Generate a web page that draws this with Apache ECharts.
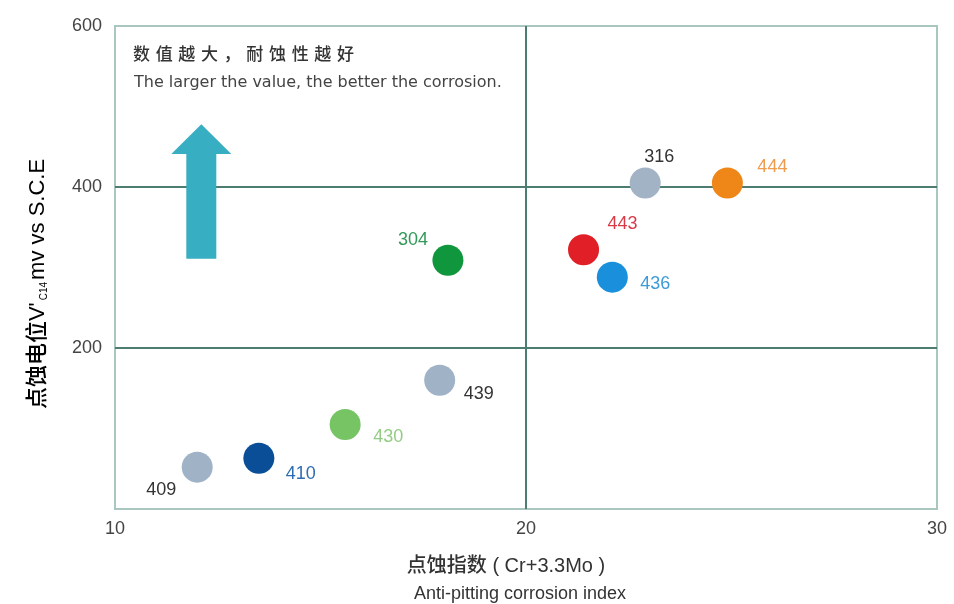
<!DOCTYPE html>
<html>
<head>
<meta charset="utf-8">
<script src="https://cdn.jsdelivr.net/npm/echarts@6/dist/echarts.min.js"></script>
<style>
html,body{margin:0;padding:0;background:#fff;}
#chart{width:954px;height:604px;}
</style>
</head>
<body>
<div id="chart"></div>
<script>
// ---- data ----
const grades = ['409', '410', '430', '439', '304', '443', '436', '316', '444'];
const pren = [12.0, 13.5, 15.6, 17.9, 18.1, 21.4, 22.1, 22.9, 24.9];
const potential = [52, 63, 105, 160, 309, 322, 288, 405, 405];
const xTicks = [10, 20, 30];
const yTicks = [0, 200, 400, 600];
// arrow annotation (x, tail y, neck y, tip y) in data units
const arrowX = 12.1;
const arrowY = [311, 441, 478];

// ---- styles ----
const dotColors = ['#9fb2c6', '#0a4e98', '#76c464', '#9fb2c6', '#10963c', '#e01f26', '#1a8fdb', '#a2b3c5', '#ef8618'];
const labelColors = ['#333333', '#2f6cb2', '#94cc84', '#333333', '#33995a', '#d83a47', '#3d9bd9', '#333333', '#ee9c4e'];
const labelOffsets = [[-36, 23], [42, 16], [43, 13], [39, 14], [-35, -20], [39, -26], [43, 7], [14, -26], [45, -16]];

const chart = echarts.init(document.getElementById('chart'));

const scatterData = grades.map((g, i) => ({
  name: g,
  value: [pren[i], potential[i]],
  itemStyle: { color: dotColors[i], opacity: 1 },
  label: {
    show: true,
    position: 'inside',
    offset: labelOffsets[i],
    formatter: g,
    color: labelColors[i],
    fontSize: 18,
    fontFamily: 'Liberation Sans, Arial, sans-serif'
  }
}));

const sp = '\u2004';
const titleCn = ['数', '值', '越', '大', '，', '耐', '蚀', '性', '越', '好'].join(sp);

const option = {
  backgroundColor: '#ffffff',
  animation: false,
  grid: {
    left: 115, right: 17, top: 26, bottom: 95,
    show: true,
    borderColor: '#a9c6bf',
    borderWidth: 2,
    backgroundColor: 'transparent'
  },
  xAxis: {
    type: 'value',
    min: xTicks[0], max: xTicks[xTicks.length - 1], interval: xTicks[1] - xTicks[0],
    axisLine: { show: false },
    axisTick: { show: false },
    axisLabel: { margin: 11, fontSize: 18, color: '#444', fontFamily: 'Liberation Sans, Arial, sans-serif' },
    splitLine: { show: true, showMinLine: false, showMaxLine: false, lineStyle: { color: '#4d7c70', width: 2 } }
  },
  yAxis: {
    type: 'value',
    min: yTicks[0], max: yTicks[yTicks.length - 1], interval: yTicks[1] - yTicks[0],
    axisLine: { show: false },
    axisTick: { show: false },
    axisLabel: {
      margin: 13, fontSize: 18, color: '#444', fontFamily: 'Liberation Sans, Arial, sans-serif',
      formatter: v => (v === 0 ? '' : String(v))
    },
    splitLine: { show: true, showMinLine: false, showMaxLine: false, lineStyle: { color: '#4d7c70', width: 2 } }
  },
  graphic: [
    {
      type: 'text', left: 133, top: 45, z: 10,
      style: {
        text: titleCn,
        font: '500 17px "Noto Sans CJK SC", sans-serif',
        fill: '#333'
      }
    },
    {
      type: 'text', left: 134, top: 75, z: 10,
      style: {
        text: 'The larger the value, the better the corrosion.',
        font: '16px "DejaVu Sans", sans-serif',
        fill: '#444'
      }
    },
    {
      type: 'text', x: 38, y: 284, rotation: Math.PI / 2, z: 10,
      style: {
        text: "{m|点蚀电位V'}{s|C14}{m|mv vs S.C.E}",
        align: 'center', verticalAlign: 'middle',
        rich: {
          m: { fontSize: 22, fontFamily: '"Liberation Sans", "Noto Sans CJK SC", sans-serif', fontWeight: 500, color: '#333' },
          s: { fontSize: 10, fontFamily: 'Liberation Sans, sans-serif', color: '#666', verticalAlign: 'bottom', padding: [10, 2, 0, 2] }
        }
      }
    },
    {
      type: 'text', x: 506, y: 566, z: 10,
      style: {
        text: '点蚀指数 ( Cr+3.3Mo )',
        align: 'center', verticalAlign: 'middle',
        font: '500 20px "Liberation Sans", "Noto Sans CJK SC", sans-serif',
        fill: '#333'
      }
    },
    {
      type: 'text', x: 520, y: 594, z: 10,
      style: {
        text: 'Anti-pitting corrosion index',
        align: 'center', verticalAlign: 'middle',
        font: '18px "Liberation Sans", Arial, sans-serif',
        fill: '#333'
      }
    }
  ],
  series: [
    {
      type: 'custom',
      z: 3,
      silent: true,
      data: [[arrowX, arrowY[0], arrowY[1], arrowY[2]]],
      encode: { x: 0, y: 1 },
      renderItem: function (params, api) {
        const tail = api.coord([api.value(0), api.value(1)]);
        const neck = api.coord([api.value(0), api.value(2)]);
        const tip = api.coord([api.value(0), api.value(3)]);
        const cx = tail[0], sw = 15, hw = 30;
        return {
          type: 'polygon',
          shape: {
            points: [
              [cx - sw, tail[1]], [cx - sw, neck[1]], [cx - hw, neck[1]],
              [cx, tip[1]], [cx + hw, neck[1]], [cx + sw, neck[1]], [cx + sw, tail[1]]
            ]
          },
          style: { fill: '#38aec3' }
        };
      }
    },
    {
      type: 'scatter',
      z: 4,
      symbol: 'circle',
      symbolSize: 31,
      itemStyle: { opacity: 1 },
      data: scatterData
    }
  ]
};
chart.setOption(option);
</script>
</body>
</html>
